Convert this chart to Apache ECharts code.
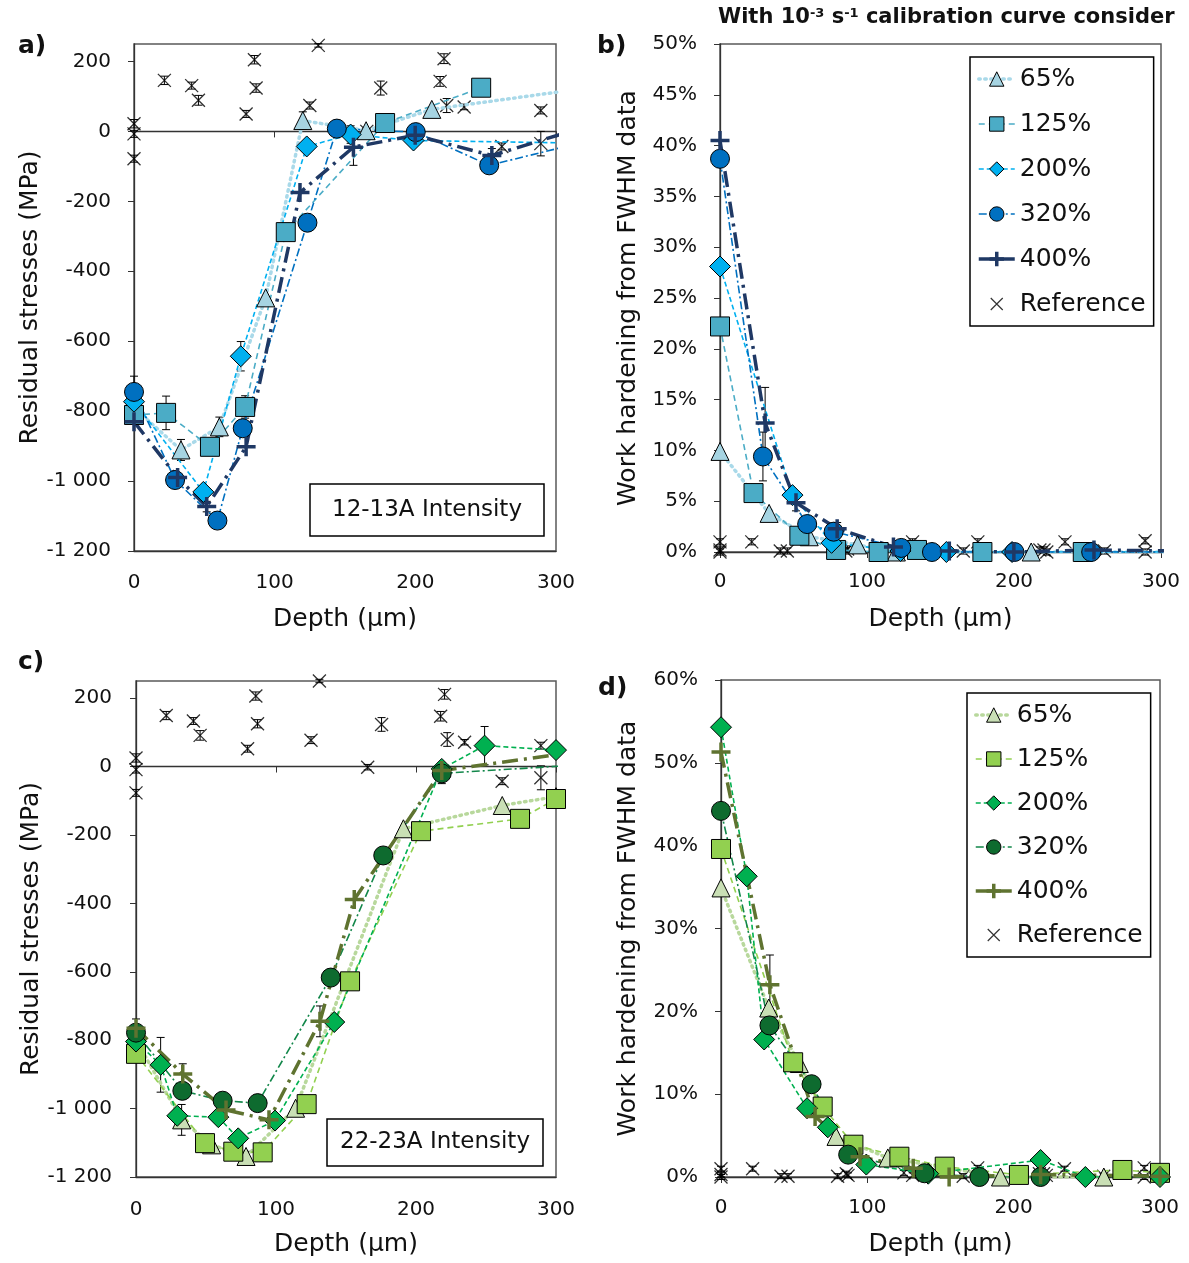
<!DOCTYPE html>
<html><head><meta charset="utf-8">
<script src="https://cdn.jsdelivr.net/npm/echarts@6/dist/echarts.min.js"></script>
<style>html,body{margin:0;padding:0;background:#fff}#c{width:1189px;height:1263px}</style>
</head><body><div id="c"></div>
<script>
// ================= DATA =================
const seriesKeys = ['65%', '125%', '200%', '320%', '400%'];
const depthTicks = [0, 100, 200, 300];

// ---- a) residual stresses, 12-13A ----
const a65x  = [0, 33.4, 60.7, 93.6, 120, 165, 211.7, 320];
const a65y  = [-790, -911, -845, -476, 31, 2, 63, 123];
const a125x = [0, 22.8, 54, 79, 107.9, 178.5, 246.8];
const a125y = [-811, -805, -902, -788, -288, 24, 125];
const a200x = [0, 49.3, 75.9, 122.8, 154, 198.7, 310];
const a200y = [-773, -1031, -643, -43, -9, -26, -33];
const a320x = [0, 29.2, 59.3, 77.3, 123.3, 144.2, 200.3, 252.5, 310];
const a320y = [-745, -997, -1113, -849, -261, 8, -2, -97, -40];
const a400x = [0, 31, 51.7, 79.7, 118, 156, 199.9, 254.4, 310];
const a400y = [-830, -990, -1073, -902, -175, -45, -11, -69, 0];
const aErrX = [0, 22.8, 33.4, 54, 60.7, 79, 75.9, 49.3, 51.7, 120, 156, 178.5, 154, 199.9, 254.4];
const aErrY = [-745, -805, -911, -902, -845, -788, -643, -1031, -1073, 31, -45, 24, -9, -11, -69];
const aErrE = [45, 48, 30, 22, 28, 32, 42, 15, 15, 25, 52, 15, 25, 15, 20];

// ---- b) work hardening, 12-13A ----
const b65x  = [0, 33.4, 60.7, 93.6, 120, 211.7, 310];
const b65y  = [9.9, 3.8, 1.5, 0.7, 0, 0, 0];
const b125x = [0, 22.8, 54, 79, 107.9, 134, 178.5, 246.8];
const b125y = [22.2, 5.8, 1.6, 0.2, 0, 0.2, 0, 0];
const b200x = [0, 49.3, 75.9, 122.8, 154, 198.7, 310];
const b200y = [28.1, 5.6, 0.9, 0.1, 0, 0, 0];
const b320x = [0, 29.2, 59.3, 77.3, 123.3, 144.2, 200.3, 252.5, 310];
const b320y = [38.7, 9.4, 2.75, 2.0, 0.4, 0, 0, 0, 0];
const b400x = [0, 30.7, 51.7, 79.7, 118, 156, 199.9, 254.4, 310];
const b400y = [40.5, 12.7, 4.85, 2.3, 0.5, 0.1, 0, 0.2, 0.1];
const bErrX = [22.8, 29.2, 30.7, 49.3, 51.7, 79.7];
const bErrY = [5.8, 9.4, 12.7, 5.6, 4.85, 2.3];
const bErrE = [0.7, 2.4, 3.5, 0.6, 0.8, 0.6];

// ---- c) residual stresses, 22-23A ----
const c65x  = [0, 32.6, 54, 78.6, 114, 191, 261.6, 300];
const c65y  = [-800, -1033, -1106, -1140, -999, -182, -114, -88];
const c125x = [0, 49.3, 69.5, 90.5, 121.9, 152.9, 203.6, 274.3, 300];
const c125y = [-840, -1101, -1126, -1128, -987, -628, -189, -153, -95];
const c200x = [0, 17.6, 29.5, 58.8, 73, 99.3, 141.6, 218.4, 249, 300];
const c200y = [-804, -872, -1021, -1025, -1087, -1035, -747, -7, 61, 48];
const c320x = [0, 33.1, 61.9, 86.9, 139.1, 176.6, 218.4, 310];
const c320y = [-778, -948, -977, -984, -617, -260, -20, 3];
const c400x = [0, 33.4, 64.3, 95, 131.4, 155.9, 218.4, 310];
const c400y = [-765, -899, -1004, -1033, -745, -389, -12, 40];
const cErrX = [0, 17.6, 32.6, 33.4, 86.9, 78.6, 131.4, 152.9, 218.4, 249, 274.3];
const cErrY = [-778, -872, -1033, -899, -984, -1140, -745, -628, -20, 61, -153];
const cErrE = [40, 80, 45, 30, 22, 15, 45, 10, 30, 56, 22];

// ---- d) work hardening, 22-23A ----
const d65x  = [0, 32.6, 53.5, 78.6, 114, 191, 261.6];
const d65y  = [34.9, 20.4, 13.7, 4.9, 2.3, 0, 0];
const d125x = [0, 49.3, 69.5, 90.5, 121.9, 152.9, 203.6, 274.3, 300];
const d125y = [39.6, 13.85, 8.5, 3.9, 2.45, 1.25, 0.25, 0.85, 0.5];
const d200x = [0, 17.6, 29.5, 58.8, 73, 99.3, 141.6, 218.4, 249, 300];
const d200y = [54.3, 36.3, 16.6, 8.3, 6.0, 1.5, 0.4, 2.05, 0, 0];
const d320x = [0, 33.1, 61.9, 86.9, 139.1, 176.6, 218.4];
const d320y = [44.2, 18.3, 11.2, 2.7, 0.45, 0, 0];
const d400x = [0, 33.4, 64.3, 95, 131.4, 155.9, 218.4, 300];
const d400y = [51.3, 23.2, 7.3, 2.45, 1.05, 0, 0.3, 0.1];
const dErrX = [33.4, 49.3];
const dErrY = [23.2, 13.85];
const dErrE = [3.6, 0.8];

// ---- Reference ----
const refX    = [0, 0, 0, 21.6, 41, 45.8, 79.7, 85.6, 86.8, 125, 131, 165.5, 175.4, 217.6, 220.4, 222.3, 234.7, 261.5, 289.2, 289.2];
const refA    = [22, -7, -78, 146, 131, 89, 50, 205, 124, 74, 246, 0, 124, 143, 208, 74, 70, -43, 60, -35];
const refC    = [25, -9, -77, 149, 133, 91, 52, 206, 125, 77, 250, -2, 123, 147, 211, 79, 71, -43, 61, -33];
const refRSErr= [12, 10, 10, 12, 10, 14, 10, 12, 12, 10, 5, 8, 20, 14, 14, 20, 8, 10, 10, 35];
const refB    = [1.0, 0.2, 0, 1.0, 0.1, 0.1, 0.1, 0.1, 0.3, 0, 1.0, 0.1, 1.0, 0.2, 0.2, 0, 1.0, 0.1, 1.1, 0];
const refD    = [1.0, 0.3, 0, 1.0, 0.1, 0.1, 0.1, 0.4, 0.2, 0.5, 0.2, 0.1, 1.1, 0.4, 0.4, 0.2, 1.0, 0.1, 1.1, 0];
const refWHErr= [0.3, 0.3, 0.3, 0.3, 0.3, 0.3, 0.3, 0.3, 0.3, 0.3, 0.3, 0.3, 0.3, 0.3, 0.3, 0.3, 0.3, 0.3, 0.3, 0.3];

// ================= STYLE =================
const F = 'DejaVu Sans';
const TXT = '#111';
const AX = '#333';
const PLUS = 'path://M5,0L5,10M0,5L10,5';
const XSYM = 'path://M0,0L10,10M10,0L0,10';
const XLEG = 'path://M3,3L15,15M15,3L3,15M0,0L0,0M18,18L18,18';
const STY = {
  '65%':  {symbol: 'triangle', size: 18, dash: [1.5, 4.5], width: 3.5, cap: 'round'},
  '125%': {symbol: 'rect', size: 19, dash: [6, 4], width: 1.6, cap: 'butt'},
  '200%': {symbol: 'diamond', size: 21, dash: [5, 3], width: 1.6, cap: 'butt'},
  '320%': {symbol: 'circle', size: 19, dash: [8, 3, 2, 3], width: 1.6, cap: 'butt'},
  '400%': {symbol: PLUS, size: 19, dash: [16, 6, 3, 6], width: 3.5, cap: 'butt'}
};
const BLUE = {
  '65%':  {fill: '#A6D4E2', line: '#A9D9E9'},
  '125%': {fill: '#4BACC6', line: '#4BACC6'},
  '200%': {fill: '#00B0F0', line: '#00B0F0'},
  '320%': {fill: '#0070C0', line: '#0070C0'},
  '400%': {fill: '#1F3864', line: '#1F3864'}
};
const GREEN = {
  '65%':  {fill: '#C9DFB5', line: '#B8D89C'},
  '125%': {fill: '#92D050', line: '#92D050'},
  '200%': {fill: '#00B050', line: '#00B050'},
  '320%': {fill: '#0E6B2F', line: '#12874A'},
  '400%': {fill: '#5F7330', line: '#5F7330'}
};

function zip(xs, ys) { return xs.map((x, i) => [x, ys[i]]); }
function zip3(xs, ys, es) { return xs.map((x, i) => [x, ys[i], es[i]]); }

function lineSeries(name, key, xs, ys, xi, yi, pal) {
  const st = STY[key], col = pal[key];
  const plus = key === '400%';
  return {
    type: 'line', name: name, xAxisIndex: xi, yAxisIndex: yi,
    data: zip(xs, ys), symbol: st.symbol, symbolSize: st.size, showAllSymbol: true,
    clip: true, animation: false,
    lineStyle: {color: col.line, width: st.width, type: st.dash, cap: st.cap},
    itemStyle: plus ? {color: col.fill, borderColor: col.fill, borderWidth: 3.5}
                    : {color: col.fill, borderColor: '#000', borderWidth: 1},
    emphasis: {disabled: true}
  };
}
function refSeries(name, xs, ys, xi, yi) {
  return {
    type: 'scatter', name: name, xAxisIndex: xi, yAxisIndex: yi, data: zip(xs, ys),
    symbol: XSYM, symbolSize: 13, symbolKeepAspect: true, clip: true,
    itemStyle: {color: '#000', borderColor: '#000', borderWidth: 1.3},
    emphasis: {disabled: true}
  };
}
function errSeries(rows, xi, yi) {
  return {
    type: 'custom', xAxisIndex: xi, yAxisIndex: yi, silent: true, data: rows,
    encode: {x: 0, y: 1},
    renderItem: function (params, api) {
      const x = api.value(0), y = api.value(1), e = api.value(2);
      const p1 = api.coord([x, y + e]), p2 = api.coord([x, y - e]);
      const w = 4, st = {stroke: '#000', lineWidth: 1};
      return {type: 'group', children: [
        {type: 'line', shape: {x1: p1[0], y1: p1[1], x2: p2[0], y2: p2[1]}, style: st},
        {type: 'line', shape: {x1: p1[0] - w, y1: p1[1], x2: p1[0] + w, y2: p1[1]}, style: st},
        {type: 'line', shape: {x1: p2[0] - w, y1: p2[1], x2: p2[0] + w, y2: p2[1]}, style: st}
      ]};
    }
  };
}

function fmtMPa(v) {
  const s = String(Math.abs(v));
  const t = s.length > 3 ? s.slice(0, -3) + ' ' + s.slice(-3) : s;
  return (v < 0 ? '-' : '') + t;
}
const rsTicks = [-1200, -1000, -800, -600, -400, -200, 0, 200];

function depthAxis(gi, margin, nameGap, ticks) {
  return {
    type: 'value', gridIndex: gi, min: 0, max: 300, interval: 100, position: 'bottom',
    name: 'Depth (µm)', nameLocation: 'middle', nameGap: nameGap,
    nameTextStyle: {fontSize: 25, color: TXT, fontFamily: F},
    axisLine: {show: true, onZero: false, lineStyle: {color: AX, width: 1.3}},
    axisTick: {show: ticks, length: 6, lineStyle: {color: AX}},
    axisLabel: {margin: margin, fontSize: 20, color: TXT, fontFamily: F},
    splitLine: {show: false}
  };
}
function zeroAxis(gi) {
  return {
    type: 'value', gridIndex: gi, min: 0, max: 300, interval: 100, position: 'bottom',
    axisLine: {show: true, onZero: true, lineStyle: {color: AX, width: 1.3}},
    axisTick: {show: true, length: 6, lineStyle: {color: AX}},
    axisLabel: {show: false}, splitLine: {show: false}
  };
}
function rsAxis(gi, nameGap, margin) {
  return {
    type: 'value', gridIndex: gi, min: -1200, max: 250, interval: 200,
    name: 'Residual stresses (MPa)', nameLocation: 'middle', nameGap: nameGap,
    nameTextStyle: {fontSize: 25, color: TXT, fontFamily: F},
    axisLine: {show: true, onZero: false, lineStyle: {color: AX, width: 1.3}},
    axisTick: {show: true, length: 6, customValues: rsTicks, lineStyle: {color: AX}},
    axisLabel: {margin: margin, fontSize: 20, color: TXT, fontFamily: F, customValues: rsTicks, formatter: fmtMPa},
    splitLine: {show: false}
  };
}
function whAxis(gi, max, interval, nameGap, margin) {
  return {
    type: 'value', gridIndex: gi, min: 0, max: max, interval: interval,
    name: 'Work hardening from FWHM data', nameLocation: 'middle', nameGap: nameGap,
    nameTextStyle: {fontSize: 25, color: TXT, fontFamily: F},
    axisLine: {show: true, onZero: false, lineStyle: {color: AX, width: 1.3}},
    axisTick: {show: true, length: 6, lineStyle: {color: AX}},
    axisLabel: {margin: margin, fontSize: 20, color: TXT, fontFamily: F, formatter: '{value}%'},
    splitLine: {show: false}
  };
}
function legendData(suffix) {
  return seriesKeys.map(k => ({
    name: k + suffix,
    lineStyle: k === '400%' ? {width: STY[k].width, type: 'solid'} : {width: STY[k].width},
    itemStyle: {borderWidth: k === '400%' ? 3.5 : 1}
  })).concat([{name: 'Reference' + suffix, icon: XLEG, itemStyle: {borderWidth: 1.2, borderColor: '#000'}}]);
}
function legend(suffix, left, top, gap) {
  return {
    data: legendData(suffix), orient: 'vertical', left: left, top: top,
    itemWidth: 36, itemHeight: 18, itemGap: gap, selectedMode: false,
    padding: [7, 8, 7, 7], borderColor: '#000', borderWidth: 1.5, backgroundColor: '#fff',
    textStyle: {fontSize: 25, color: TXT, fontFamily: F, lineHeight: 30},
    formatter: n => n.split('|')[0]
  };
}

const series = [];
// error bars first (drawn beneath)
series.push(errSeries(zip3(aErrX, aErrY, aErrE), 0, 0));
series.push(errSeries(zip3(refX, refA, refRSErr), 0, 0));
series.push(errSeries(zip3(bErrX, bErrY, bErrE), 2, 1));
series.push(errSeries(zip3(refX, refB, refWHErr), 2, 1));
series.push(errSeries(zip3(cErrX, cErrY, cErrE), 3, 2));
series.push(errSeries(zip3(refX, refC, refRSErr), 3, 2));
series.push(errSeries(zip3(dErrX, dErrY, dErrE), 5, 3));
series.push(errSeries(zip3(refX, refD, refWHErr), 5, 3));

const A = [[a65x, a65y], [a125x, a125y], [a200x, a200y], [a320x, a320y], [a400x, a400y]];
const B = [[b65x, b65y], [b125x, b125y], [b200x, b200y], [b320x, b320y], [b400x, b400y]];
const C = [[c65x, c65y], [c125x, c125y], [c200x, c200y], [c320x, c320y], [c400x, c400y]];
const D = [[d65x, d65y], [d125x, d125y], [d200x, d200y], [d320x, d320y], [d400x, d400y]];
seriesKeys.forEach((k, i) => series.push(lineSeries(k, k, A[i][0], A[i][1], 0, 0, BLUE)));
series.push(refSeries('Reference', refX, refA, 0, 0));
seriesKeys.forEach((k, i) => series.push(lineSeries(k, k, B[i][0], B[i][1], 2, 1, BLUE)));
series.push(refSeries('Reference', refX, refB, 2, 1));
seriesKeys.forEach((k, i) => series.push(lineSeries(k + '|g', k, C[i][0], C[i][1], 3, 2, GREEN)));
series.push(refSeries('Reference|g', refX, refC, 3, 2));
seriesKeys.forEach((k, i) => series.push(lineSeries(k + '|g', k, D[i][0], D[i][1], 5, 3, GREEN)));
series.push(refSeries('Reference|g', refX, refD, 5, 3));

const gridStyle = {show: true, borderColor: '#595959', borderWidth: 1.5, containLabel: false};
const option = {
  animation: false,
  backgroundColor: '#fff',
  textStyle: {fontFamily: F},
  grid: [
    Object.assign({left: 134, top: 44, width: 422, height: 507}, gridStyle),
    Object.assign({left: 720, top: 44, width: 441, height: 508}, gridStyle),
    Object.assign({left: 136, top: 681, width: 420, height: 496}, gridStyle),
    Object.assign({left: 721, top: 680, width: 439, height: 497}, gridStyle)
  ],
  xAxis: [
    depthAxis(0, 22, 56, false), zeroAxis(0),
    depthAxis(1, 20, 55, true),
    depthAxis(2, 23, 55, false), zeroAxis(2),
    depthAxis(3, 21, 55, true)
  ],
  yAxis: [
    rsAxis(0, 88, 23),
    whAxis(1, 50, 5, 79, 23),
    rsAxis(2, 92, 24),
    whAxis(3, 60, 10, 80, 23)
  ],
  legend: [legend('', 970, 57, 15), legend('|g', 967, 693, 14)],
  graphic: [
    {type: 'text', left: 18, top: 34, style: {text: 'a)', fontSize: 25, fontWeight: 'bold', fontFamily: F, fill: TXT}},
    {type: 'text', left: 597, top: 34, style: {text: 'b)', fontSize: 25, fontWeight: 'bold', fontFamily: F, fill: TXT}},
    {type: 'text', left: 18, top: 650, style: {text: 'c)', fontSize: 25, fontWeight: 'bold', fontFamily: F, fill: TXT}},
    {type: 'text', left: 598, top: 676, style: {text: 'd)', fontSize: 25, fontWeight: 'bold', fontFamily: F, fill: TXT}},
    {type: 'text', left: 718, top: 7, style: {
      text: '{b|With 10}{s|-3}{b| s}{s|-1}{b| calibration curve consider}',
      fill: TXT,
      rich: {
        b: {fontSize: 21, fontWeight: 'bold', fontFamily: F, fill: TXT},
        s: {fontSize: 13, fontWeight: 'bold', fontFamily: F, fill: TXT, verticalAlign: 'top'}
      }
    }},
    {type: 'group', children: [
      {type: 'rect', shape: {x: 310, y: 484, width: 234, height: 52}, style: {fill: '#fff', stroke: '#000', lineWidth: 1.5}},
      {type: 'text', x: 427, y: 510, style: {text: '12-13A Intensity', fontSize: 23, fontFamily: F, fill: TXT, align: 'center', verticalAlign: 'middle'}}
    ]},
    {type: 'group', children: [
      {type: 'rect', shape: {x: 327, y: 1119, width: 216, height: 47}, style: {fill: '#fff', stroke: '#000', lineWidth: 1.5}},
      {type: 'text', x: 435, y: 1142, style: {text: '22-23A Intensity', fontSize: 23, fontFamily: F, fill: TXT, align: 'center', verticalAlign: 'middle'}}
    ]}
  ],
  series: series
};
const chart = echarts.init(document.getElementById('c'), null, {renderer: 'canvas'});
chart.setOption(option);
</script>
</body></html>
